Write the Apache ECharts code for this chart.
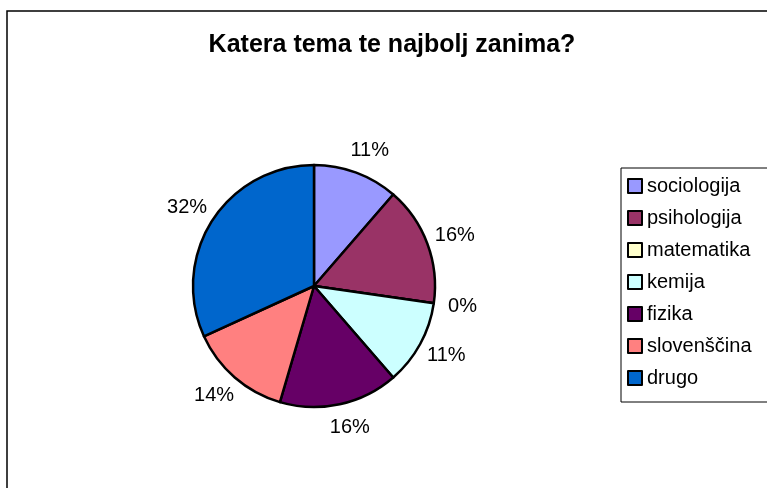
<!DOCTYPE html>
<html lang="sl">
<head>
    <meta charset="UTF-8">
    <title>Katera tema te najbolj zanima?</title>
    <style>
        html, body { margin: 0; padding: 0; background: #fff; }
        #chart { width: 767px; height: 488px; }
    </style>
</head>
<body>
<div id="chart"></div>
<script src="https://cdn.jsdelivr.net/npm/echarts@6/dist/echarts.min.js"></script>
<script>
    // podatki
    var teme = ['sociologija', 'psihologija', 'matematika', 'kemija', 'fizika', 'slovenščina', 'drugo'];
    var glasovi = [5, 7, 0, 5, 7, 6, 14];
    var barve = ['#9999FF', '#993366', '#FFFFCC', '#CCFFFF', '#660066', '#FF8080', '#0066CC'];

    var podatki = [];
    for (var i = 0; i < teme.length; i++) {
        podatki.push({ name: teme[i], value: glasovi[i], itemStyle: { color: barve[i] } });
    }

    var myChart = echarts.init(document.getElementById('chart'));
    var option = {
        backgroundColor: '#fff',
        animation: false,
        textStyle: { fontFamily: 'Liberation Sans, Arial, sans-serif' },
        title: {
            text: 'Katera tema te najbolj zanima?',
            left: 387,
            textAlign: 'center',
            top: 28,
            textStyle: { fontSize: 25, fontWeight: 'bold', color: '#000' }
        },
        legend: {
            orient: 'vertical',
            left: 621,
            top: 168,
            padding: [8, 120, 14, 6],
            borderColor: '#000',
            borderWidth: 1,
            itemWidth: 14,
            itemHeight: 14,
            itemGap: 12,
            icon: 'rect',
            itemStyle: { borderColor: '#000', borderWidth: 2 },
            textStyle: { fontSize: 20, color: '#000', lineHeight: 20 },
            data: teme
        },
        graphic: [{
            type: 'rect',
            shape: { x: 7, y: 11, width: 800, height: 520 },
            style: { fill: null, stroke: '#000', lineWidth: 1.5 },
            silent: true
        }],
        series: [{
            type: 'pie',
            center: [314, 286],
            radius: 121,
            startAngle: 90,
            clockwise: true,
            avoidLabelOverlap: false,
            itemStyle: { borderColor: '#000', borderWidth: 2.5 },
            label: {
                show: true,
                position: 'outside',
                fontSize: 20,
                color: '#000',
                formatter: function (p) { return Math.round(p.percent) + '%'; }
            },
            labelLine: { show: false, length: 24, length2: 0 },
            // oznake centriramo okoli konca (kot v Excelu)
            labelLayout: function (p) {
                var w = p.labelRect.width;
                return { dx: p.align === 'right' ? w / 2 : -w / 2 };
            },
            emphasis: { disabled: true },
            data: podatki
        }]
    };
    myChart.setOption(option);
</script>
</body>
</html>
